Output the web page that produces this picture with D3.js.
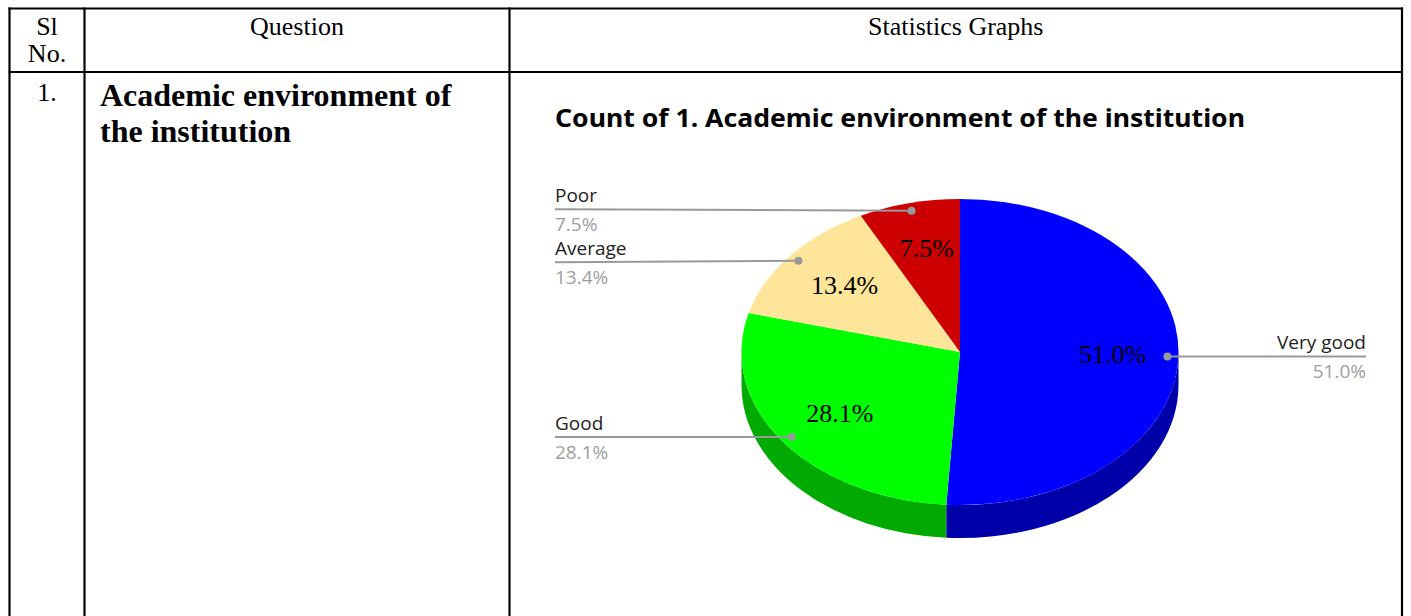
<!DOCTYPE html>
<html>
<head>
<meta charset="utf-8">
<script src="https://cdn.jsdelivr.net/npm/d3@7"></script>
<style>
  html, body { margin: 0; padding: 0; background: #fff; }
  svg { display: block; }
</style>
</head>
<body>
<svg id="chart" width="1411" height="616"></svg>
<script>
// ---- data ----
const categories = ["Very good", "Good", "Average", "Poor"];
const values = [51.0, 28.1, 13.4, 7.5];
const headerLabels = [["Sl", "No."], ["Question"], ["Statistics Graphs"]];
const rowNumber = "1.";
const questionLines = ["Academic environment of", "the institution"];
const chartTitle = "Count of 1. Academic environment of the institution";

// ---- styles ----
const topColors = ["#0000FF", "#00FF00", "#FFE599", "#CC0000"];
const sideColors = ["#0000AA", "#00AA00", "#E0C77E", "#990000"];

(function () {
const svg = d3.select("#chart");
const W = 1411, H = 616;

// ---- table ----
const colX = [9.5, 84.5, 509.5, 1402];
const rowY = [8.5, 72];
const serif = "'Liberation Serif', 'Times New Roman', serif";

const grid = svg.append("g").attr("stroke", "#000").attr("stroke-width", 2.2);
grid.append("line").attr("x1", colX[0] - 1).attr("x2", colX[3] + 1).attr("y1", rowY[0]).attr("y2", rowY[0]);
grid.append("line").attr("x1", colX[0] - 1).attr("x2", colX[3] + 1).attr("y1", rowY[1]).attr("y2", rowY[1]);
colX.forEach(x => grid.append("line").attr("x1", x).attr("x2", x).attr("y1", rowY[0] - 1).attr("y2", H));

headerLabels.forEach((lines, i) => {
  const cxm = (colX[i] + colX[i + 1]) / 2;
  lines.forEach((t, j) => {
    svg.append("text").attr("x", cxm).attr("y", 35 + j * 27)
      .attr("text-anchor", "middle").attr("font-family", serif).attr("font-size", 26)
      .attr("fill", "#000").text(t);
  });
});
svg.append("text").attr("x", (colX[0] + colX[1]) / 2).attr("y", 101)
  .attr("text-anchor", "middle").attr("font-family", serif).attr("font-size", 26).text(rowNumber);
questionLines.forEach((t, j) => {
  svg.append("text").attr("x", 100).attr("y", 106 + j * 35.5)
    .attr("font-family", serif).attr("font-weight", "bold").attr("font-size", 32).text(t);
});

// ---- chart title ----
svg.append("text").attr("x", 555).attr("y", 127)
  .attr("font-family", "'Noto Sans', sans-serif").attr("font-weight", "bold").attr("font-size", 25)
  .attr("textLength", 690).attr("lengthAdjust", "spacingAndGlyphs")
  .attr("fill", "#000").text(chartTitle);

// ---- 3D pie ----
const cx = 960, cy = 352, rx = 218.5, ry = 153, depth = 33;
const pie = d3.pie().sort(null).value(d => d).startAngle(0).endAngle(2 * Math.PI);
const arcs = pie(values);
const P = (a, f = 1, dz = 0) => [cx + rx * f * Math.sin(a), cy - ry * f * Math.cos(a) + dz];

// sides (front half only)
const sides = svg.append("g");
arcs.forEach((d, i) => {
  const a0 = Math.max(d.startAngle, Math.PI / 2);
  const a1 = Math.min(d.endAngle, 3 * Math.PI / 2);
  if (a1 <= a0) return;
  const p0 = P(a0), p1 = P(a1), q1 = P(a1, 1, depth), q0 = P(a0, 1, depth);
  const path = `M${p0[0]},${p0[1]} A${rx},${ry} 0 0 1 ${p1[0]},${p1[1]} L${q1[0]},${q1[1]} A${rx},${ry} 0 0 0 ${q0[0]},${q0[1]} Z`;
  sides.append("path").attr("d", path).attr("fill", sideColors[i]);
});

// top surface via d3.arc, scaled vertically
const arcGen = d3.arc().innerRadius(0).outerRadius(rx);
const topG = svg.append("g").attr("transform", `translate(${cx},${cy}) scale(1,${ry / rx})`);
topG.selectAll("path").data(arcs).join("path")
  .attr("d", arcGen).attr("fill", (d, i) => topColors[i]);

// inner percentage labels
const fmt = v => v.toFixed(1) + "%";
arcs.forEach((d, i) => {
  const m = (d.startAngle + d.endAngle) / 2;
  const p = P(m, 0.69);
  svg.append("text").attr("x", p[0] + 2).attr("y", p[1] + 8)
    .attr("text-anchor", "middle").attr("font-family", serif).attr("font-size", 26)
    .attr("fill", "#000").text(fmt(values[i]));
});

// outside labels with leader lines (simple collision spacing per side)
const sans = "'Open Sans', 'Noto Sans', sans-serif";
const labels = svg.append("g");
const minGap = 53;
const items = arcs.map((d, i) => {
  const m = (d.startAngle + d.endAngle) / 2;
  const p = P(m, 0.95);
  return { i, p, right: m < Math.PI, y: p[1] };
});
[true, false].forEach(side => {
  const s = items.filter(it => it.right === side).sort((a, b) => a.y - b.y);
  for (let k = 1; k < s.length; k++) {
    const gap = s[k].y - s[k - 1].y;
    if (gap < minGap) {
      const shift = (minGap - gap) / 2;
      s[k - 1].y -= shift;
      s[k].y += shift;
    }
  }
});
items.forEach(it => {
  const { i, p, right, y } = it;
  const xEnd = right ? 1366 : 555;
  labels.append("line").attr("x1", p[0]).attr("y1", p[1]).attr("x2", xEnd).attr("y2", y)
    .attr("stroke", "#999").attr("stroke-width", 2);
  labels.append("circle").attr("cx", p[0]).attr("cy", p[1]).attr("r", 4).attr("fill", "#999");
  const anchor = right ? "end" : "start";
  labels.append("text").attr("x", xEnd).attr("y", y - 7.5).attr("text-anchor", anchor)
    .attr("font-family", sans).attr("font-size", 19).attr("fill", "#222").text(categories[i]);
  labels.append("text").attr("x", xEnd).attr("y", y + 21.5).attr("text-anchor", anchor)
    .attr("font-family", sans).attr("font-size", 19).attr("fill", "#9e9e9e").text(fmt(values[i]));
});
})();
</script>
</body>
</html>
